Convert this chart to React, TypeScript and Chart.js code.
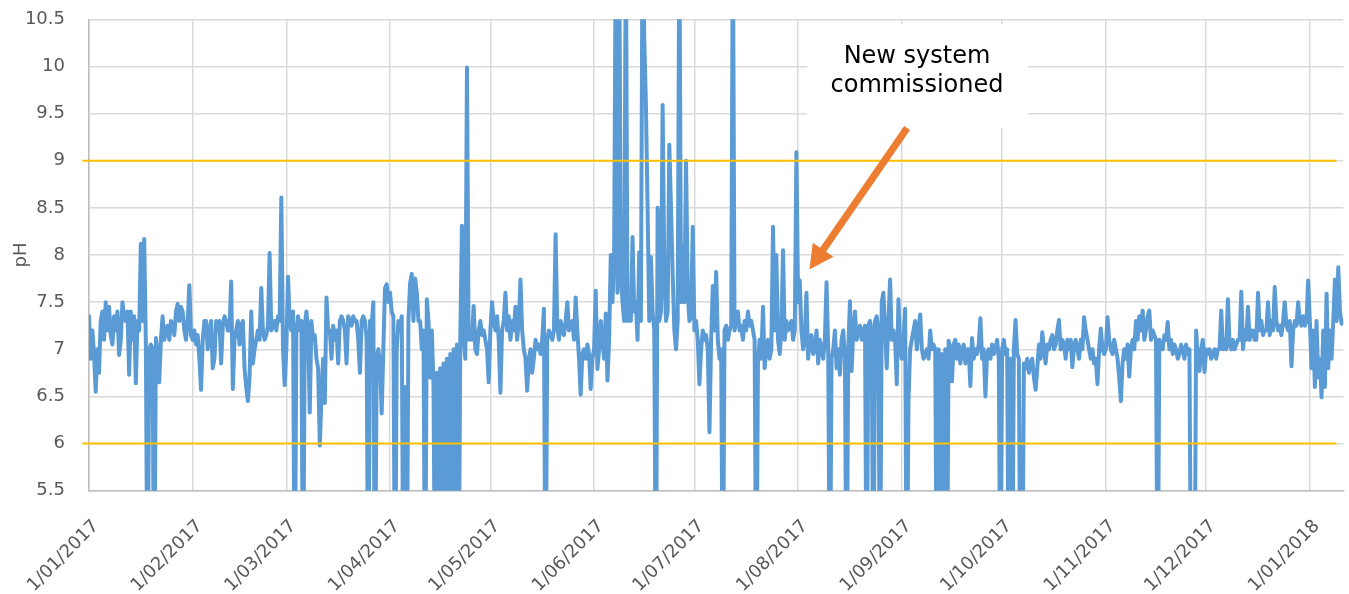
import React, { useEffect, useRef } from "react";
import { Chart, registerables } from "chart.js";

Chart.register(...registerables);

// x positions are days since 1 Jan 2017; each month array holds two readings per day
const monthStarts = [0, 31, 59, 90, 120, 151, 181, 212, 243, 273, 304, 334, 365];
const tickLabels = [
  "1/01/2017", "1/02/2017", "1/03/2017", "1/04/2017", "1/05/2017", "1/06/2017",
  "1/07/2017", "1/08/2017", "1/09/2017", "1/10/2017", "1/11/2017", "1/12/2017", "1/01/2018",
];
const xMax = 375;
const yMin = 5.5;
const yMax = 10.5;
const limitValues = [9, 6];
const limitSpan = [-2, 372.9];

const jan17 = [
  7.35, 6.9, 7.2, 6.95, 6.55, 7.0, 6.75, 7.3, 7.4, 7.1, 7.5, 7.2, 7.45, 7.15, 7.05, 7.35,
  7.2, 7.4, 6.94, 7.1, 7.5, 7.35, 7.3, 7.4, 6.73, 7.4, 7.1, 7.35, 6.64, 7.3, 7.2, 8.12,
  7.3, 8.17, 7.05, 4, 7.0, 7.05, 7.0, 4, 7.12, 6.95, 6.65, 7.1, 7.35, 7.1, 7.2, 7.25,
  7.1, 7.3, 7.25, 7.15, 7.4, 7.48, 7.3, 7.45, 7.4, 7.2, 7.1, 7.3, 7.68, 7.15,
];
const feb17 = [
  7.1, 7.2, 7.05, 7.15, 6.9, 6.57, 7.1, 7.3, 7.3, 7.0, 7.2, 7.3, 6.8, 6.9, 7.3, 7.2,
  7.3, 6.85, 7.25, 7.35, 7.3, 7.2, 7.2, 7.72, 6.58, 7.1, 7.2, 7.3, 7.05, 7.25, 7.3, 6.8,
  6.6, 6.45, 6.7, 7.4, 6.85, 7.0, 7.1, 7.2, 7.1, 7.65, 7.2, 7.1, 7.15, 7.25, 8.02, 7.2,
  7.25, 7.3, 7.2, 7.35, 7.3, 8.61, 7.0, 6.62,
];
const mar17 = [
  7.0, 7.77, 7.3, 7.2, 7.4, 4, 7.2, 7.35, 7.2, 7.3, 4, 7.25, 7.4, 7.2, 6.33, 7.3,
  7.1, 7.15, 6.9, 6.8, 5.98, 6.5, 6.9, 6.43, 7.55, 7.2, 7.2, 6.9, 7.25, 7.1, 7.2, 6.85,
  7.3, 7.35, 7.3, 7.2, 6.85, 7.35, 7.3, 7.25, 7.35, 7.3, 7.3, 7.1, 6.75, 7.3, 7.35, 7.3,
  7.1, 4, 7.3, 7.25, 7.5, 4, 6.9, 7.0, 6.85, 6.32, 7.0, 7.65, 7.69, 7.5,
];
const apr17 = [
  7.6, 7.4, 7.35, 4, 7.0, 7.3, 7.2, 7.35, 4, 6.6, 4, 7.3, 7.7, 7.8, 7.3, 7.75,
  7.6, 7.3, 7.3, 7.0, 7.2, 4, 7.53, 7.3, 6.7, 7.2, 6.6, 4, 6.75, 4, 6.8, 4,
  6.85, 4, 6.9, 4, 6.95, 4, 7.0, 4, 7.05, 4, 7.1, 8.31, 7.1, 6.9, 9.99, 7.1,
  7.2, 7.1, 7.46, 7.0, 6.95, 7.2, 7.3, 7.15, 7.2, 7.1, 7.0, 6.65,
];
const may17 = [
  7.2, 7.5, 7.3, 7.2, 7.35, 7.1, 6.54, 7.2, 7.3, 7.6, 7.2, 7.35, 7.1, 7.3, 7.2, 7.45,
  7.1, 7.3, 7.74, 7.2, 7.0, 6.9, 6.56, 6.9, 7.0, 6.75, 6.9, 7.1, 7.0, 7.05, 6.95, 7.1,
  7.43, 4, 7.1, 7.2, 7.15, 7.1, 7.2, 8.22, 7.25, 7.1, 7.3, 7.2, 7.15, 7.3, 7.5, 7.2,
  7.25, 7.3, 7.1, 7.55, 7.2, 6.9, 6.52, 6.95, 7.0, 6.9, 7.05, 6.95, 6.58, 6.9,
];
const jun17 = [
  7.0, 7.62, 6.79, 7.0, 7.3, 7.1, 6.9, 7.38, 6.67, 7.1, 8.0, 7.5, 8.0, 11.5, 7.6, 11.5,
  7.8, 7.5, 7.3, 11.5, 7.3, 7.45, 7.3, 8.19, 7.4, 7.5, 7.1, 8.03, 7.3, 11.5, 10.3, 9.6,
  8.5, 7.3, 7.98, 7.4, 7.2, 4, 8.5, 7.3, 7.4, 9.59, 7.8, 7.3, 7.4, 9.17, 8.5, 7.8,
  7.2, 7.0, 7.3, 11.5, 7.5, 8.1, 7.5, 9.0, 7.6, 7.3, 7.35, 8.3,
];
const jul17 = [
  7.2, 7.3, 7.1, 6.63, 7.0, 7.2, 7.1, 7.15, 7.0, 6.12, 7.1, 7.67, 7.2, 7.82, 7.1, 6.9,
  7.0, 4, 7.2, 7.25, 7.1, 7.2, 7.25, 11.5, 7.2, 7.3, 7.4, 7.2, 7.25, 7.1, 7.3, 7.2,
  7.4, 7.25, 7.3, 7.2, 7.1, 4, 6.85, 7.1, 6.9, 7.45, 6.8, 7.0, 7.1, 6.9, 7.0, 8.3,
  7.2, 8.0, 7.1, 6.95, 7.2, 8.05, 7.1, 7.3, 7.2, 7.25, 7.3, 7.1, 7.2, 9.09,
];
const aug17 = [
  7.5, 7.73, 7.2, 7.0, 7.1, 7.6, 6.9, 7.1, 7.15, 6.95, 7.0, 7.2, 6.85, 7.1, 7.0, 6.9,
  7.1, 7.71, 7.0, 4, 6.9, 7.0, 7.2, 6.8, 7.0, 6.73, 7.1, 7.2, 6.9, 4, 7.0, 7.51,
  6.77, 7.2, 7.4, 7.1, 7.2, 7.25, 7.1, 7.2, 7.25, 4, 7.25, 7.3, 7.2, 4, 7.3, 7.35,
  7.2, 4, 7.5, 7.6, 7.2, 6.8, 7.3, 7.74, 7.1, 7.2, 7.1, 6.63, 7.53, 7.0,
];
const sep17 = [
  6.9, 7.1, 7.43, 4, 6.45, 7.0, 7.1, 7.2, 7.3, 7.0, 7.2, 7.37, 7.0, 6.9, 6.95, 7.0,
  6.9, 7.2, 7.0, 7.05, 7.0, 4, 7.0, 4, 6.95, 4, 7.0, 4, 7.09, 7.0, 6.66, 7.05,
  7.1, 6.9, 7.05, 6.85, 7.0, 7.05, 6.85, 7.0, 7.0, 6.61, 7.12, 6.9, 7.0, 6.95, 7.05, 7.33,
  6.9, 7.0, 6.5, 6.95, 7.0, 6.9, 7.05, 6.95, 7.0, 7.1, 6.9, 4,
];
const oct17 = [
  7.0, 7.1, 6.95, 7.0, 4, 6.9, 4, 7.0, 7.31, 6.95, 6.9, 4, 4, 6.85, 6.8, 6.9,
  6.75, 6.85, 6.9, 6.7, 6.57, 6.8, 7.05, 6.9, 7.18, 7.0, 6.85, 7.05, 7.0, 7.1, 7.15, 7.0,
  7.05, 7.2, 7.31, 7.0, 7.1, 7.05, 6.9, 7.1, 7.0, 7.1, 6.81, 7.05, 7.1, 7.0, 6.9, 7.1,
  7.0, 7.34, 7.2, 7.1, 7.0, 6.9, 7.0, 6.85, 6.9, 6.63, 7.0, 7.22, 7.0, 6.95,
];
const nov17 = [
  7.0, 7.34, 7.1, 7.0, 6.95, 7.1, 7.0, 6.9, 6.7, 6.45, 6.85, 7.0, 6.9, 7.05, 6.71, 7.0,
  7.1, 7.0, 7.3, 7.1, 7.35, 7.2, 7.41, 7.1, 7.2, 7.35, 7.41, 7.1, 7.2, 7.15, 7.1, 4,
  7.1, 7.05, 7.0, 7.15, 7.1, 7.29, 7.0, 7.1, 6.95, 7.05, 7.0, 6.9, 6.95, 7.05, 7.0, 6.9,
  7.05, 6.95, 7.0, 4, 4, 4, 7.2, 6.9, 6.77, 7.0, 7.1, 6.76,
];
const dec17 = [
  7.0, 6.95, 7.0, 6.9, 6.95, 7.0, 6.9, 7.0, 7.0, 7.41, 7.0, 7.1, 7.0, 7.53, 7.05, 7.0,
  7.1, 7.0, 7.05, 7.1, 7.1, 7.61, 7.0, 7.2, 7.1, 7.45, 7.1, 7.2, 7.2, 7.1, 7.1, 7.6,
  7.2, 7.3, 7.15, 7.2, 7.2, 7.5, 7.15, 7.3, 7.2, 7.66, 7.3, 7.2, 7.25, 7.15, 7.3, 7.5,
  7.25, 7.2, 7.3, 6.82, 7.2, 7.3, 7.25, 7.5, 7.3, 7.25, 7.35, 7.25, 7.3, 7.73,
];
const jan18 = [
  7.3, 6.8, 7.2, 6.6, 7.3, 6.7, 6.9, 6.49, 7.2, 6.6, 7.59, 6.8, 7.2, 6.9, 7.3, 7.74,
  7.3, 7.87, 7.4, 7.27, 7.3,
];
const monthlyReadings = [jan17, feb17, mar17, apr17, may17, jun17, jul17, aug17, sep17, oct17, nov17, dec17, jan18];

// annotation anchored in data coordinates
const noteLines = ["New system", "commissioned"];
const noteBox = { x0: 214.7, x1: 280.7, y0: 10.45, y1: 9.35 };
const noteTextX = 247.55;
const noteBaselines = [10.033, 9.732];
const arrowTail = { x: 244.6, y: 9.347 };
const arrowTip = { x: 215.4, y: 7.846 };

const FONT = "'DejaVu Sans', Verdana, sans-serif";

function buildSeries() {
  const pts: { x: number; y: number }[] = [];
  monthlyReadings.forEach((arr, m) => {
    arr.forEach((v, i) => pts.push({ x: monthStarts[m] + i / 2, y: v }));
  });
  return pts;
}

const annotationPlugin = {
  id: "noteAnnotation",
  afterDraw(chart: any) {
    const { ctx, scales } = chart;
    const x = scales.x;
    const y = scales.y;
    ctx.save();
    const bx0 = x.getPixelForValue(noteBox.x0);
    const bx1 = x.getPixelForValue(noteBox.x1);
    const by0 = y.getPixelForValue(noteBox.y0);
    const by1 = y.getPixelForValue(noteBox.y1);
    ctx.fillStyle = "#ffffff";
    ctx.fillRect(bx0, by0, bx1 - bx0, by1 - by0);

    // arrow
    const tx = x.getPixelForValue(arrowTail.x);
    const ty = y.getPixelForValue(arrowTail.y);
    const hx = x.getPixelForValue(arrowTip.x);
    const hy = y.getPixelForValue(arrowTip.y);
    const dx = hx - tx;
    const dy = hy - ty;
    const len = Math.sqrt(dx * dx + dy * dy);
    const ux = dx / len;
    const uy = dy / len;
    const px = -uy;
    const py = ux;
    const headLen = 24;
    const headHalf = 12.5;
    const shaftHalf = 3.6;
    const bx = hx - ux * headLen;
    const byy = hy - uy * headLen;
    ctx.fillStyle = "#ED7D31";
    ctx.beginPath();
    ctx.moveTo(tx + px * shaftHalf, ty + py * shaftHalf);
    ctx.lineTo(bx + px * shaftHalf, byy + py * shaftHalf);
    ctx.lineTo(bx + px * headHalf, byy + py * headHalf);
    ctx.lineTo(hx, hy);
    ctx.lineTo(bx - px * headHalf, byy - py * headHalf);
    ctx.lineTo(bx - px * shaftHalf, byy - py * shaftHalf);
    ctx.lineTo(tx - px * shaftHalf, ty - py * shaftHalf);
    ctx.closePath();
    ctx.fill();

    ctx.fillStyle = "#000000";
    ctx.font = `24px ${FONT}`;
    ctx.textAlign = "center";
    ctx.textBaseline = "alphabetic";
    const cx = x.getPixelForValue(noteTextX);
    noteLines.forEach((t, i) => ctx.fillText(t, cx, y.getPixelForValue(noteBaselines[i])));
    ctx.restore();
  },
};

export default function App() {
  const ref = useRef<HTMLCanvasElement | null>(null);

  useEffect(() => {
    document.body.style.margin = "0";
    const canvas = ref.current;
    if (!canvas) return;
    const series = buildSeries();
    const limitDatasets = limitValues.map((v) => ({
      data: limitSpan.map((d) => ({ x: d, y: v })),
      borderColor: "#FFC000",
      borderWidth: 2,
      pointRadius: 0,
      clip: false as any,
      tension: 0,
    }));
    const tickFont = { family: FONT, size: 18 };
    const chart = new Chart(canvas, {
      type: "line",
      data: {
        datasets: [
          ...limitDatasets,
          {
            data: series,
            borderColor: "#5B9BD5",
            borderWidth: 4,
            pointRadius: 0,
            tension: 0,
            clip: 0 as any,
            borderJoinStyle: "round",
            borderCapStyle: "round",
          },
        ],
      },
      options: {
        animation: false,
        responsive: false,
        maintainAspectRatio: false,
        events: [],
        plugins: { legend: { display: false }, tooltip: { enabled: false } },
        layout: { padding: { left: 0, top: 19.3, right: 5.7, bottom: 0 } },
        scales: {
          x: {
            type: "linear",
            min: 0,
            max: xMax,
            afterBuildTicks: (s: any) => {
              s.ticks = monthStarts.map((v) => ({ value: v }));
            },
            afterFit: (s: any) => {
              s.height = 103.3;
            },
            ticks: {
              autoSkip: false,
              maxRotation: 45,
              minRotation: 45,
              labelOffset: 7,
              padding: 0,
              font: tickFont,
              color: "#595959",
              callback: (v: any) => {
                const i = monthStarts.indexOf(Number(v));
                return i >= 0 ? tickLabels[i] : "";
              },
            },
            grid: { color: "#d9d9d9", lineWidth: 1.5, drawTicks: true, tickLength: 25, tickColor: "rgba(0,0,0,0)" },
            border: { color: "#bfbfbf", width: 1.5 },
          },
          y: {
            min: yMin,
            max: yMax,
            afterFit: (s: any) => {
              s.width = 89;
            },
            ticks: {
              stepSize: 0.5,
              padding: 0,
              font: tickFont,
              color: "#595959",
              callback: (v: any) => String(Math.round(Number(v) * 10) / 10),
            },
            grid: { color: "#d9d9d9", lineWidth: 1.5, drawTicks: true, tickLength: 24, tickColor: "rgba(0,0,0,0)" },
            border: { color: "#bfbfbf", width: 1.5 },
            title: {
              display: true,
              text: "pH",
              font: tickFont,
              color: "#595959",
              padding: { top: 11, bottom: 0 },
            },
          },
        },
      },
      plugins: [annotationPlugin],
    });
    return () => chart.destroy();
  }, []);

  return <canvas ref={ref} width={1349} height={594} style={{ display: "block" }} />;
}
